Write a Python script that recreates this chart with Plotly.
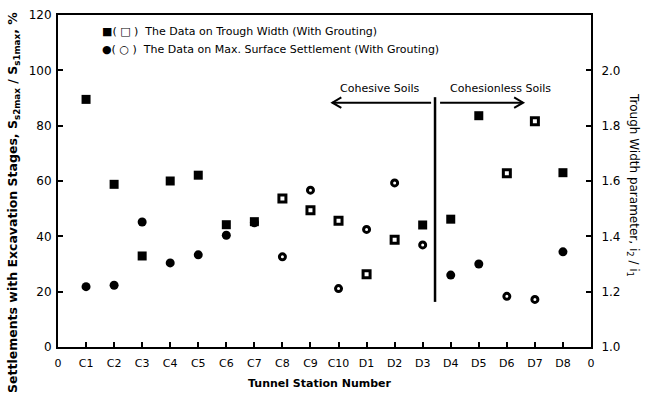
import plotly.graph_objects as go

# ---------------- data ----------------
stations = ["C1", "C2", "C3", "C4", "C5", "C6", "C7", "C8", "C9", "C10",
            "D1", "D2", "D3", "D4", "D5", "D6", "D7", "D8"]
station_pos = list(range(1, 19))
x_tick_vals = list(range(0, 20))
x_tick_text = ["0"] + stations + ["0"]

# Trough width parameter i2/i1 (right axis)
trough_width = [1.895, 1.588, 1.329, 1.600, 1.621, 1.442, 1.453, 1.537, 1.494,
                1.456, 1.263, 1.388, 1.441, 1.462, 1.836, 1.628, 1.816, 1.630]
trough_grouted = [False, False, False, False, False, False, False, True, True,
                  True, True, True, False, False, False, True, True, False]

# Max surface settlement ratio, % (left axis)
settlement = [21.8, 22.3, 45.2, 30.4, 33.3, 40.4, 44.9, 32.6, 56.7,
              21.1, 42.5, 59.3, 36.9, 26.0, 30.0, 18.3, 17.2, 34.4]
settle_grouted = [False, False, False, False, False, False, False, True, True,
                  True, True, True, True, False, False, True, True, False]

left_ticks = [0, 20, 40, 60, 80, 100, 120]
right_ticks = [1.0, 1.2, 1.4, 1.6, 1.8, 2.0]


def pick(vals, flags, want):
    xs, ys = [], []
    for p, v, f in zip(station_pos, vals, flags):
        if f == want:
            xs.append(p)
            ys.append(v)
    return xs, ys


FONT = "DejaVu Sans"
fig = go.Figure()

# settlement (left axis)
x, y = pick(settlement, settle_grouted, False)
fig.add_trace(go.Scatter(x=x, y=y, mode="markers", showlegend=False,
                         marker=dict(symbol="circle", size=9, color="black")))
x, y = pick(settlement, settle_grouted, True)
fig.add_trace(go.Scatter(x=x, y=y, mode="markers", showlegend=False,
                         marker=dict(symbol="circle-open", size=6, color="black",
                                     line=dict(width=3, color="black"))))
# trough width (right axis)
x, y = pick(trough_width, trough_grouted, False)
fig.add_trace(go.Scatter(x=x, y=y, mode="markers", showlegend=False, yaxis="y2",
                         marker=dict(symbol="square", size=9, color="black")))
x, y = pick(trough_width, trough_grouted, True)
fig.add_trace(go.Scatter(x=x, y=y, mode="markers", showlegend=False, yaxis="y2",
                         marker=dict(symbol="square-open", size=7, color="black",
                                     line=dict(width=3, color="black"))))

# divider and arrows
shapes = [
    dict(type="line", xref="x", yref="y", x0=13.44, x1=13.44, y0=16.3, y1=90.3,
         line=dict(color="black", width=2.5)),
    dict(type="line", xref="x", yref="y", x0=9.78, x1=13.3, y0=88.3, y1=88.3,
         line=dict(color="black", width=2)),
    dict(type="path", xref="x", yref="y",
         path="M 10.1,90.2 L 9.78,88.3 L 10.1,86.4",
         line=dict(color="black", width=2)),
    dict(type="line", xref="x", yref="y", x0=13.62, x1=16.58, y0=88.3, y1=88.3,
         line=dict(color="black", width=2)),
    dict(type="path", xref="x", yref="y",
         path="M 16.26,90.2 L 16.58,88.3 L 16.26,86.4",
         line=dict(color="black", width=2)),
]

annotations = [
    dict(text="Cohesive Soils", x=11.48, y=93.6, xref="x", yref="y",
         showarrow=False, font=dict(family=FONT, size=11, color="black")),
    dict(text="Cohesionless Soils", x=15.76, y=93.6, xref="x", yref="y",
         showarrow=False, font=dict(family=FONT, size=11, color="black")),
    dict(text="■( □ )  The Data on Trough Width (With Grouting)",
         x=100, y=32, xref="paper", yref="paper", showarrow=False,
         xanchor="left", yanchor="middle",
         font=dict(family=FONT, size=11, color="black")),
    dict(text="●( ○ )  The Data on Max. Surface Settlement (With Grouting)",
         x=100, y=50, xref="paper", yref="paper", showarrow=False,
         xanchor="left", yanchor="middle",
         font=dict(family=FONT, size=11, color="black")),
    dict(text="<b>Settlements with Excavation Stages, S<sub>s2max</sub> / S<sub>s1max</sub>, %</b>",
         x=13, y=203, xref="paper", yref="paper", showarrow=False, textangle=-90,
         xanchor="center", yanchor="middle",
         font=dict(family=FONT, size=12.5, color="black")),
    dict(text="Trough Width parameter, i<sub>2</sub> / i<sub>1</sub>",
         x=633, y=185, xref="paper", yref="paper", showarrow=False, textangle=90,
         xanchor="center", yanchor="middle",
         font=dict(family=FONT, size=12, color="black")),
    dict(text="<b>Tunnel Station Number</b>",
         x=320, y=383, xref="paper", yref="paper", showarrow=False,
         xanchor="center", yanchor="middle",
         font=dict(family=FONT, size=11, color="black")),
]

# convert pixel positions for paper-referenced annotations
W, H = 656, 406
ML, MR, MT, MB = 58, 65, 15, 59
pw, ph = W - ML - MR, H - MT - MB
for a in annotations:
    if a["xref"] == "paper":
        a["x"] = (a["x"] - ML) / pw
        a["y"] = 1 - (a["y"] - MT) / ph

fig.update_layout(
    width=W, height=H,
    margin=dict(l=ML, r=MR, t=MT, b=MB, autoexpand=False),
    paper_bgcolor="white", plot_bgcolor="white",
    font=dict(family=FONT, size=11, color="black"),
    showlegend=False,
    shapes=shapes,
    annotations=annotations,
    xaxis=dict(range=[0, 19], tickvals=x_tick_vals, ticktext=x_tick_text,
               ticks="inside", ticklen=5, tickwidth=1.5, tickcolor="black",
               showline=True, linewidth=2, linecolor="black", mirror=True,
               showgrid=False, zeroline=False, automargin=False,
               ticklabelstandoff=5,
               tickfont=dict(family=FONT, size=11)),
    yaxis=dict(range=[0, 120], tickvals=left_ticks,
               ticks="inside", ticklen=5, tickwidth=1.5, tickcolor="black",
               showline=True, linewidth=2, linecolor="black",
               showgrid=False, zeroline=False, automargin=False,
               ticklabelstandoff=2,
               tickfont=dict(family=FONT, size=12)),
    yaxis2=dict(range=[1.0, 2.2], tickvals=right_ticks, tickformat=".1f",
                overlaying="y", side="right", anchor="x",
                ticks="inside", ticklen=5, tickwidth=1.5, tickcolor="black",
                showline=True, linewidth=2, linecolor="black",
                showgrid=False, zeroline=False, automargin=False,
                ticklabelstandoff=6,
                tickfont=dict(family=FONT, size=12)),
)

fig.write_html("out.html",
               config={"displayModeBar": False},
               post_script="document.body.style.margin='0';"
                           "document.body.style.overflow='hidden';")
